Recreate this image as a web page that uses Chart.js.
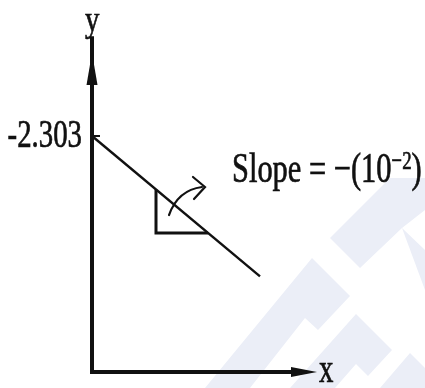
<!DOCTYPE html>
<html>
<head>
<meta charset="utf-8">
<script src="https://cdn.jsdelivr.net/npm/chart.js@4"></script>
<style>
  html, body { margin: 0; padding: 0; background: #fff; }
</style>
</head>
<body>
<canvas id="chart" width="425" height="388"></canvas>
<script>
// plot ranges (data units)
const xRange = [0, 225];
const yRange = [-5.126, -1.31];

// texts
const interceptLabel = "-2.303";
const slopeLabel = "Slope = \u2212(10";
const slopeExponent = "\u22122";
const slopeClose = ")";
const xAxisTitle = "x";
const yAxisTitle = "y";

// the straight line: starts at the intercept, slope -(10^-2)
const lineX = [0, 168];
const lineY = [-2.303, -3.983];

// slope triangle under the line
const triangleX = [64, 64, 116];
const triangleY = [-2.943, -3.463, -3.463];

// curved arrow: start, control, end
const curveX = [77, 86, 110];
const curveY = [-3.248, -2.949, -2.913];

const INK = "#111";
const SERIF = '"Liberation Serif", "DejaVu Serif", serif';

const watermark = {
  id: "watermark",
  beforeDraw(chart) {
    const ctx = chart.ctx;
    ctx.save();
    ctx.fillStyle = "#ebeef7";
    const polys = [
      [[205, 388], [312, 258], [350, 296], [318, 330], [305, 318], [250, 388]],
      [[290, 388], [356, 314], [392, 350], [368, 376], [356, 364], [335, 388]],
      [[330, 238], [390, 178], [425, 178], [425, 210], [402, 228], [360, 268]],
      [[402, 228], [425, 250], [425, 290]],
      [[380, 388], [410, 353], [425, 368], [425, 388]],
    ];
    for (const p of polys) {
      ctx.beginPath();
      ctx.moveTo(p[0][0], p[0][1]);
      for (let i = 1; i < p.length; i++) ctx.lineTo(p[i][0], p[i][1]);
      ctx.closePath();
      ctx.fill();
    }
    ctx.restore();
  },
};

const drawText = (ctx, text, x, y, size, sx, align) => {
  ctx.save();
  ctx.translate(x, y);
  ctx.scale(sx, 1);
  ctx.font = size + "px " + SERIF;
  ctx.textAlign = align || "left";
  ctx.textBaseline = "alphabetic";
  ctx.lineWidth = 0.7;
  ctx.fillText(text, 0, 0);
  ctx.strokeText(text, 0, 0);
  const w = ctx.measureText(text).width * sx;
  ctx.restore();
  return w;
};

const decorations = {
  id: "decorations",
  afterDraw(chart) {
    const ctx = chart.ctx;
    const xs = chart.scales.x;
    const ys = chart.scales.y;
    const px = (v) => xs.getPixelForValue(v);
    const py = (v) => ys.getPixelForValue(v);

    ctx.save();
    ctx.fillStyle = INK;
    ctx.strokeStyle = INK;

    // arrow heads on the axes
    const yTipX = px(xRange[0]);
    const yTipY = py(yRange[1]);
    ctx.beginPath();
    ctx.moveTo(yTipX, yTipY);
    ctx.lineTo(yTipX + 5.5, yTipY + 32);
    ctx.lineTo(yTipX - 5.5, yTipY + 32);
    ctx.closePath();
    ctx.fill();

    const xTipX = px(xRange[1]);
    const xTipY = py(yRange[0]);
    ctx.beginPath();
    ctx.moveTo(xTipX, xTipY);
    ctx.lineTo(xTipX - 26, xTipY - 5);
    ctx.lineTo(xTipX - 26, xTipY + 5);
    ctx.closePath();
    ctx.fill();

    // tick at the intercept
    ctx.lineWidth = 2;
    ctx.beginPath();
    ctx.moveTo(px(0), py(lineY[0]));
    ctx.lineTo(px(0) + 8, py(lineY[0]));
    ctx.stroke();

    // curved arrow
    ctx.lineWidth = 2.2;
    ctx.lineCap = "round";
    ctx.beginPath();
    ctx.moveTo(px(curveX[0]), py(curveY[0]));
    ctx.quadraticCurveTo(px(curveX[1]), py(curveY[1]), px(curveX[2]), py(curveY[2]));
    ctx.stroke();
    const ex = px(curveX[2]) + 3;
    const ey = py(curveY[2]);
    ctx.beginPath();
    ctx.moveTo(ex - 12, ey - 10);
    ctx.lineTo(ex, ey);
    ctx.lineTo(ex - 11, ey + 12);
    ctx.stroke();

    // texts
    drawText(ctx, interceptLabel, 82, py(lineY[0]) + 11, 40, 0.72, "right");
    drawText(ctx, yAxisTitle, yTipX - 7, yTipY - 22, 36, 0.8, "left");
    drawText(ctx, xAxisTitle, xTipX + 2, xTipY + 10, 40, 0.72, "left");

    let sx = 232;
    sx += drawText(ctx, slopeLabel, sx, 182, 42, 0.725, "left");
    sx += drawText(ctx, slopeExponent, sx, 169, 26, 0.725, "left");
    drawText(ctx, slopeClose, sx, 182, 42, 0.725, "left");

    ctx.restore();
  },
};

const toPoints = (xv, yv) => xv.map((x, i) => ({ x: x, y: yv[i] }));

new Chart(document.getElementById("chart"), {
  type: "scatter",
  data: {
    datasets: [
      {
        // axes as one polyline: x tip -> origin -> y tip
        data: [
          { x: xRange[1] - 20, y: yRange[0] },
          { x: xRange[0], y: yRange[0] },
          { x: xRange[0], y: yRange[1] + 0.2 },
        ],
        showLine: true,
        borderColor: INK,
        borderWidth: 4,
        borderJoinStyle: "miter",
        pointRadius: 0,
        clip: false,
      },
      {
        data: toPoints(lineX, lineY),
        showLine: true,
        borderColor: INK,
        borderWidth: 2.4,
        pointRadius: 0,
        clip: false,
      },
      {
        data: toPoints(triangleX, triangleY),
        showLine: true,
        borderColor: INK,
        borderWidth: 3,
        borderJoinStyle: "miter",
        pointRadius: 0,
        clip: false,
      },
    ],
  },
  options: {
    responsive: false,
    animation: false,
    layout: { padding: { left: 92, right: 108, top: 53, bottom: 16 } },
    plugins: { legend: { display: false }, tooltip: { enabled: false } },
    scales: {
      x: { type: "linear", min: xRange[0], max: xRange[1], display: false },
      y: { type: "linear", min: yRange[0], max: yRange[1], display: false },
    },
  },
  plugins: [watermark, decorations],
});
</script>
</body>
</html>
